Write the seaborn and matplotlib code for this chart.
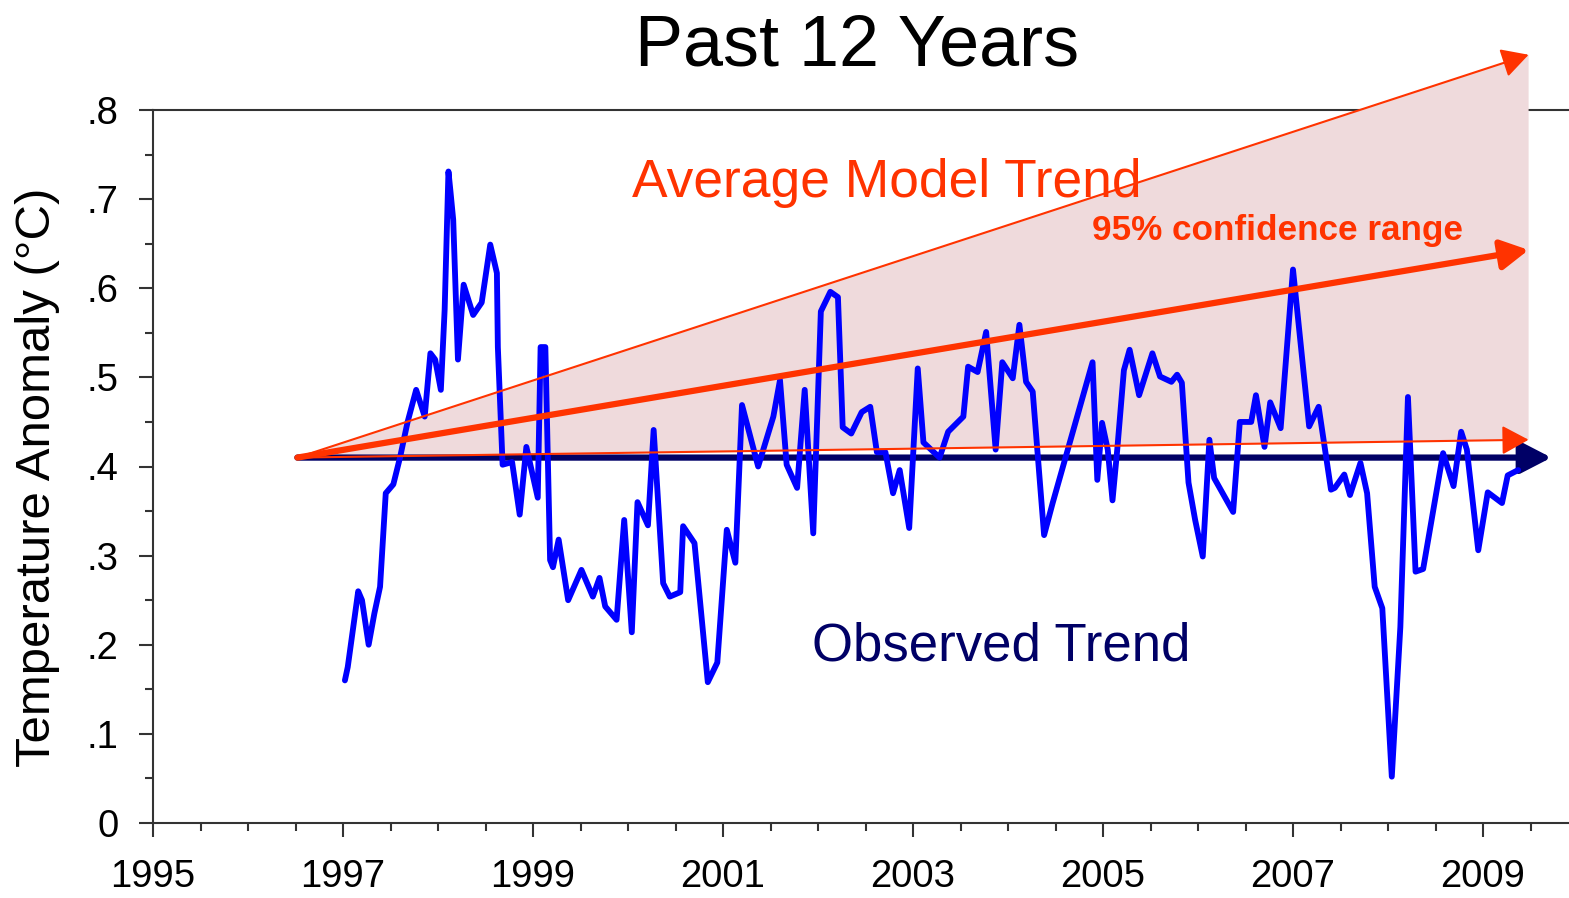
import matplotlib
matplotlib.use("Agg")
import matplotlib.pyplot as plt
import seaborn as sns
import pandas as pd
from matplotlib.ticker import MultipleLocator, FixedLocator, FixedFormatter

# observed monthly anomaly (decimal year, deg C)
years = [1997.02, 1997.05, 1997.16, 1997.20, 1997.27, 1997.33, 1997.39, 1997.45, 1997.53, 1997.60,
         1997.68, 1997.77, 1997.86, 1997.92, 1997.97, 1998.03, 1998.07, 1998.11, 1998.13, 1998.16,
         1998.21, 1998.27, 1998.37, 1998.46, 1998.55, 1998.62, 1998.63, 1998.68, 1998.78, 1998.86,
         1998.93, 1999.05, 1999.08, 1999.13, 1999.18, 1999.21, 1999.27, 1999.37, 1999.51, 1999.63,
         1999.70, 1999.76, 1999.88, 1999.96, 2000.04, 2000.10, 2000.21, 2000.27, 2000.37, 2000.44,
         2000.55, 2000.58, 2000.70, 2000.84, 2000.94, 2001.04, 2001.13, 2001.20, 2001.37, 2001.53,
         2001.60, 2001.67, 2001.78, 2001.86, 2001.95, 2002.03, 2002.13, 2002.21, 2002.26, 2002.35,
         2002.46, 2002.55, 2002.62, 2002.71, 2002.79, 2002.86, 2002.96, 2003.05, 2003.11, 2003.28,
         2003.37, 2003.53, 2003.58, 2003.68, 2003.77, 2003.87, 2003.94, 2004.05, 2004.12, 2004.19,
         2004.26, 2004.38, 2004.47, 2004.89, 2004.94, 2004.99, 2005.05, 2005.10, 2005.15, 2005.22,
         2005.28, 2005.38, 2005.52, 2005.60, 2005.72, 2005.78, 2005.83, 2005.90, 2005.97, 2006.05,
         2006.12, 2006.17, 2006.37, 2006.44, 2006.56, 2006.61, 2006.70, 2006.76, 2006.87, 2007.00,
         2007.17, 2007.27, 2007.40, 2007.44, 2007.54, 2007.60, 2007.71, 2007.78, 2007.86, 2007.94,
         2008.04, 2008.13, 2008.21, 2008.29, 2008.37, 2008.58, 2008.69, 2008.77, 2008.83, 2008.95,
         2009.05, 2009.20, 2009.26, 2009.37]
anomaly = [0.160, 0.175, 0.260, 0.250, 0.200, 0.235, 0.265, 0.370, 0.380, 0.410,
           0.450, 0.486, 0.456, 0.527, 0.520, 0.486, 0.576, 0.731, 0.710, 0.677,
           0.520, 0.604, 0.570, 0.584, 0.649, 0.617, 0.534, 0.402, 0.405, 0.346,
           0.422, 0.365, 0.534, 0.534, 0.295, 0.287, 0.318, 0.250, 0.284, 0.254,
           0.275, 0.243, 0.228, 0.340, 0.214, 0.360, 0.334, 0.441, 0.269, 0.254,
           0.259, 0.333, 0.314, 0.158, 0.180, 0.329, 0.292, 0.469, 0.400, 0.456,
           0.497, 0.402, 0.376, 0.486, 0.325, 0.574, 0.596, 0.590, 0.444, 0.437,
           0.461, 0.467, 0.416, 0.416, 0.370, 0.396, 0.331, 0.510, 0.427, 0.410,
           0.439, 0.456, 0.512, 0.506, 0.551, 0.419, 0.517, 0.499, 0.559, 0.495,
           0.484, 0.323, 0.359, 0.517, 0.385, 0.449, 0.419, 0.362, 0.419, 0.508,
           0.531, 0.480, 0.527, 0.501, 0.495, 0.503, 0.494, 0.382, 0.340, 0.299,
           0.430, 0.387, 0.349, 0.450, 0.450, 0.480, 0.422, 0.472, 0.443, 0.621,
           0.445, 0.467, 0.374, 0.376, 0.391, 0.368, 0.404, 0.370, 0.265, 0.241,
           0.052, 0.220, 0.478, 0.282, 0.285, 0.415, 0.378, 0.439, 0.419, 0.306,
           0.371, 0.359, 0.390, 0.396]

# trend lines: common start, end values of the model fan and observed trend
trend_start = (1996.52, 0.41)
model_end_year = 2009.48
model_mean_end = 0.643
model_upper_end = 0.862
model_lower_end = 0.43
observed_end = (2009.72, 0.41)

ytick_vals = [0, 0.1, 0.2, 0.3, 0.4, 0.5, 0.6, 0.7, 0.8]
ytick_labels = ["0", ".1", ".2", ".3", ".4", ".5", ".6", ".7", ".8"]
xtick_vals = [1995, 1997, 1999, 2001, 2003, 2005, 2007, 2009]

RED = "#FF3300"
NAVY = "#000066"
BLUE = "#0000FF"
FAN = "#EFDADC"

sns.set_style("ticks")
plt.rcParams["font.family"] = ["Liberation Sans", "DejaVu Sans"]
plt.rcParams["text.color"] = "black"

fig = plt.figure(figsize=(15.69, 8.98), dpi=100)
ax = fig.add_axes([153 / 1569, 75 / 898, 1415 / 1569, 713 / 898])

df = pd.DataFrame({"year": years, "anomaly": anomaly})

# shaded 95% range
ax.fill([trend_start[0], model_end_year, model_end_year],
        [trend_start[1], model_upper_end, model_lower_end],
        color=FAN, lw=0, zorder=3, clip_on=False)

# observed trend arrow
ax.annotate("", xy=observed_end, xytext=trend_start,
            arrowprops=dict(arrowstyle="-|>,head_length=0.62,head_width=0.32",
                            color=NAVY, lw=4.5, shrinkA=0, shrinkB=0, mutation_scale=30),
            annotation_clip=False, zorder=4)

sns.lineplot(data=df, x="year", y="anomaly", sort=False, estimator=None,
             color=BLUE, lw=4.2, ax=ax, zorder=5)

# model trend arrows
for end_val, width in [(model_upper_end, 1.5), (model_mean_end, 4.5), (model_lower_end, 1.5)]:
    ax.annotate("", xy=(model_end_year, end_val), xytext=trend_start,
                arrowprops=dict(arrowstyle="-|>,head_length=0.55,head_width=0.3",
                                color=RED, lw=width, shrinkA=0, shrinkB=0, mutation_scale=30),
                annotation_clip=False, zorder=6)

ax.set_xlim(1995, 1995 + 1415 / 95)
ax.set_ylim(0, 0.8)
ax.set_xlabel("")
ax.set_ylabel("")

ax.xaxis.set_major_locator(FixedLocator(xtick_vals))
ax.xaxis.set_minor_locator(MultipleLocator(0.5))
ax.yaxis.set_major_locator(FixedLocator(ytick_vals))
ax.yaxis.set_major_formatter(FixedFormatter(ytick_labels))
ax.yaxis.set_minor_locator(MultipleLocator(0.05))

ax.tick_params(axis="both", which="major", length=10, width=1.5, color="#333333",
               labelsize=27.5, labelcolor="black")
ax.tick_params(axis="x", which="major", pad=16)
ax.tick_params(axis="y", which="major", pad=15)
ax.tick_params(axis="both", which="minor", length=5.5, width=1.5, color="#333333")

ax.spines["right"].set_visible(False)
for side in ["left", "top", "bottom"]:
    ax.spines[side].set_linewidth(1.5)
    ax.spines[side].set_color("#333333")

ax.text(2000.04, 0.7026, "Average Model Trend", color=RED, fontsize=38.4, zorder=7)
ax.text(2004.88, 0.654, "95% confidence range", color=RED, fontsize=25.3,
        fontweight="bold", zorder=7)
ax.text(2001.94, 0.182, "Observed Trend", color=NAVY, fontsize=38, zorder=7)

fig.text(857 / 1569, 1 - 65 / 898, "Past 12 Years", ha="center", va="baseline",
         fontsize=51.8, color="black")
fig.text(38 / 1569, 0.469, "Temperature Anomaly (°C)", rotation=90,
         ha="center", va="center", fontsize=35.4, color="black")

fig.savefig("out.png", dpi=100)
